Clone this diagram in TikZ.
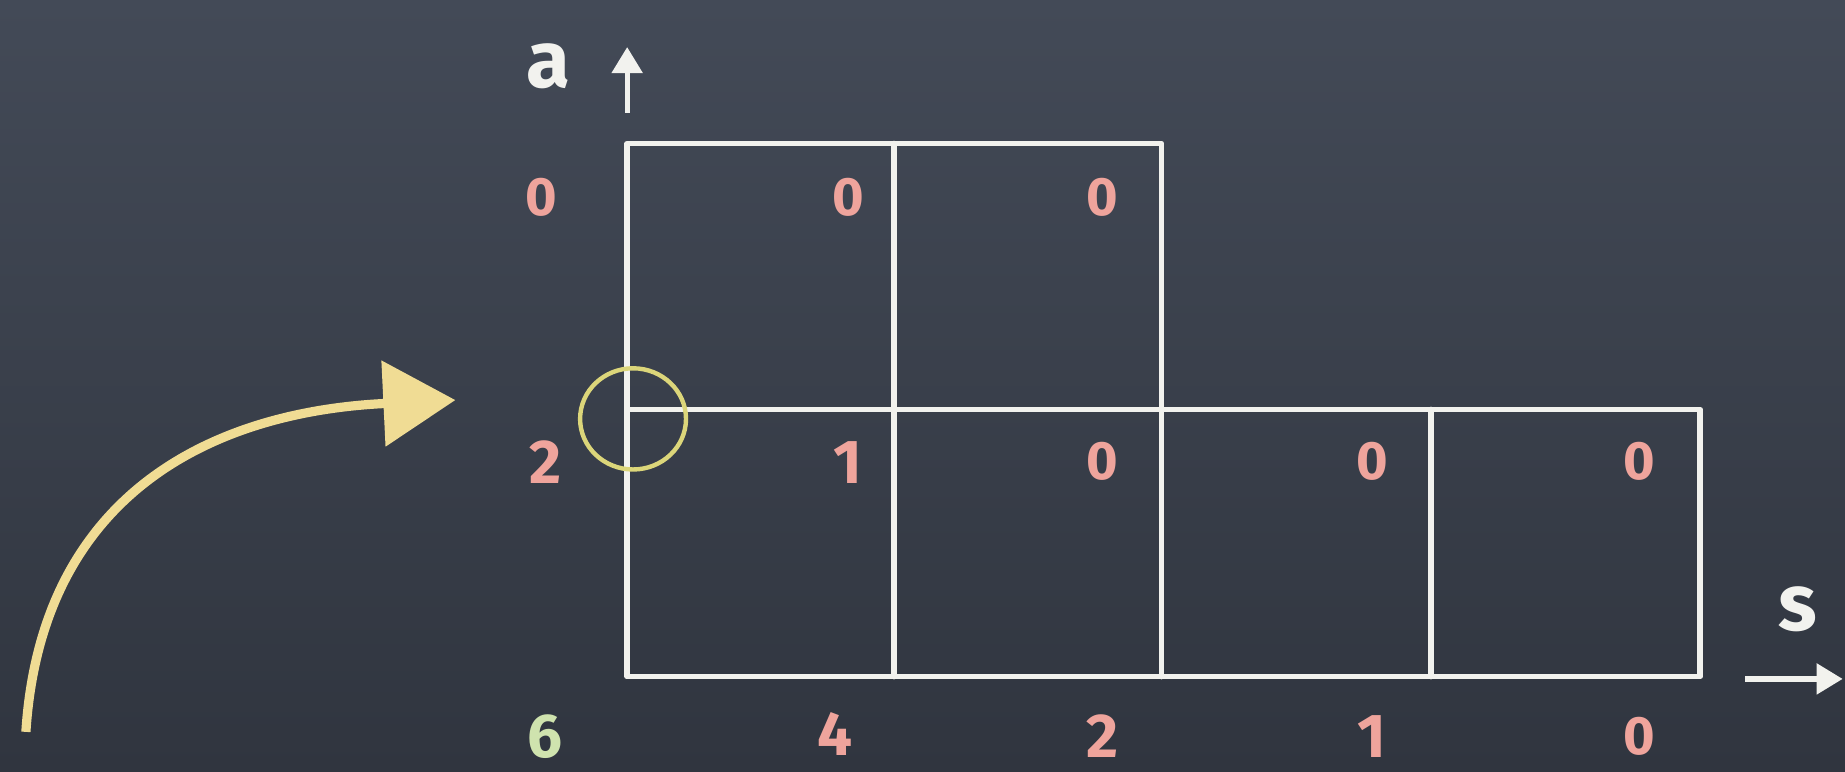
\documentclass[tikz,border=0pt]{standalone}
\usepackage{fontspec}
\setmainfont{Fira Sans}
\usetikzlibrary{arrows.meta}
\definecolor{boardtop}{HTML}{434A57}
\definecolor{boardbot}{HTML}{30353F}
\definecolor{chalk}{HTML}{F2F2EE}
\definecolor{chalkpink}{HTML}{EFA49C}
\definecolor{chalkgreen}{HTML}{CFE3AE}
\definecolor{chalkyellow}{HTML}{F0DC94}
\definecolor{ringyellow}{HTML}{DCD67A}
\tikzset{
  gridline/.style={draw=chalk, line width=2.8pt, line cap=round, line join=round},
  axis/.style={draw=chalk, line width=2.6pt, -{Triangle[length=13pt,width=15pt]}},
  num/.style={text=chalkpink, font=\fontsize{31}{36}\selectfont\bfseries, inner sep=0pt},
  zero/.style={text=chalkpink, font=\fontsize{27}{30}\selectfont\bfseries, inner sep=0pt},
  axlabel/.style={text=chalk, font=\fontsize{40}{44}\selectfont\bfseries, inner sep=0pt},
  bigarrow/.style={draw=chalkyellow, line width=4.6pt, -{Triangle[length=36pt,width=42pt]}},
  ring/.style={draw=ringyellow, line width=2.2pt}
}
\begin{document}
\begin{tikzpicture}[x=0.5883pt,y=-0.5883pt]
\shade[top color=boardtop, bottom color=boardbot] (0,0) rectangle (1568,656);
\useasboundingbox (0,0) rectangle (1568,656);
% grid
\draw[gridline] (533,348) -- (533,122) -- (987,122) -- (987,348);
\draw[gridline] (760,122) -- (760,575);
\draw[gridline] (533,348) rectangle (1445,575);
\draw[gridline] (987,348) -- (987,575);
\draw[gridline] (1216,348) -- (1216,575);
% axes
\coordinate (ya0) at (533,96);
\coordinate (ya1) at (533,40);
\coordinate (xa0) at (1483,577);
\coordinate (xa1) at (1566,577);
\draw[axis] (ya0) -- (ya1);
\draw[axis] (xa0) -- (xa1);
\node[axlabel] (la) at (466,56) {a};
\node[axlabel] (ls) at (1528,518) {s};
% ring
\draw[ring] (538,356) ellipse [x radius=45, y radius=43];
% curved arrow
\coordinate (c0) at (22,622);
\coordinate (c1) at (387,340);
\draw[bigarrow] (c0) .. controls (35,420) and (180,350) .. (c1);
% numbers
\node[zero] (n00) at (460,168) {0};
\node[zero] (n01) at (721,168) {0};
\node[zero] (n02) at (937,168) {0};
\node[num]  (n10) at (464,393) {2};
\node[num]  (n11) at (721,393) {1};
\node[zero] (n12) at (937,392) {0};
\node[zero] (n13) at (1166,392) {0};
\node[zero] (n14) at (1393,392) {0};
\node[num, text=chalkgreen] (n20) at (463,626) {6};
\node[num]  (n21) at (710,624) {4};
\node[num]  (n22) at (937,626) {2};
\node[num]  (n23) at (1166,626) {1};
\node[zero] (n24) at (1393,626) {0};
\end{tikzpicture}
\end{document}
